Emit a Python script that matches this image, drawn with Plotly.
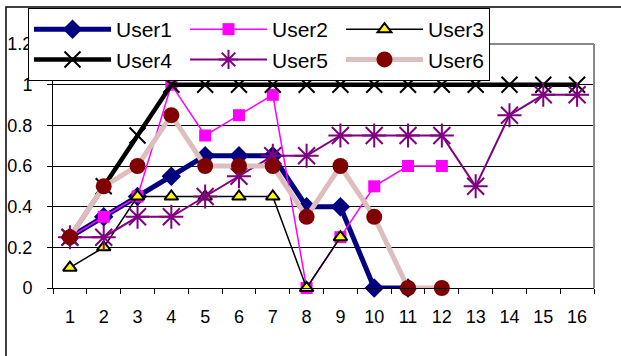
import plotly.graph_objects as go

categories = [str(i) for i in range(1, 17)]

user1 = [0.25, 0.35, 0.45, 0.55, 0.65, 0.65, 0.65, 0.4, 0.4, 0.0, 0.0, None, None, None, None, None]
user2 = [0.25, 0.35, 0.45, 1.0, 0.75, 0.85, 0.95, 0.0, 0.25, 0.5, 0.6, 0.6, None, None, None, None]
user3 = [0.1, 0.2, 0.45, 0.45, 0.45, 0.45, 0.45, 0.0, 0.25, None, None, None, None, None, None, None]
user4 = [0.25, 0.5, 0.75, 1.0, 1.0, 1.0, 1.0, 1.0, 1.0, 1.0, 1.0, 1.0, 1.0, 1.0, 1.0, 1.0]
user5 = [0.25, 0.25, 0.35, 0.35, 0.45, 0.55, 0.65, 0.65, 0.75, 0.75, 0.75, 0.75, 0.5, 0.85, 0.95, 0.95]
user6 = [0.25, 0.5, 0.6, 0.85, 0.6, 0.6, 0.6, 0.35, 0.6, 0.35, 0.0, 0.0, None, None, None, None]

series_names = ["User1", "User2", "User3", "User4", "User5", "User6"]

fig = go.Figure()

def add(name, y, line_color, line_width, symbol, msize, mcolor, mline_color, mline_width, lw=None):
    fig.add_trace(go.Scatter(
        x=categories, y=y, name=name, mode="lines+markers",
        line=dict(color=line_color, width=line_width),
        marker=dict(symbol=symbol, size=msize, color=mcolor,
                    line=dict(color=mline_color, width=mline_width)),
        cliponaxis=False, connectgaps=False, legendwidth=lw,
    ))

add(series_names[0], user1, "#000080", 5, "diamond", 15, "#000080", "#000080", 0)
add(series_names[1], user2, "#FF00FF", 1.5, "square", 12, "#FF00FF", "#FF00FF", 0)
add(series_names[2], user3, "#000000", 1.5, "triangle-up", 12, "#FFFF00", "#000000", 2, 56)
add(series_names[3], user4, "#000000", 4.5, "x-thin", 16, "#000000", "#000000", 2)
add(series_names[4], user5, "#800080", 2, "asterisk", 20, "#800080", "#800080", 2)
add(series_names[5], user6, "#DDBDBD", 5, "circle", 16, "#800000", "#800000", 0, 56)

L, R, T, B = 53, 27, 44, 68
W, H = 621, 356
pw, ph = W - L - R, H - T - B

def px_x(x):
    return (x - L) / pw

def px_y(y):
    return (H - B - y) / ph

fig.update_layout(
    width=W, height=H,
    margin=dict(l=L, r=R, t=T, b=B, pad=0, autoexpand=False),
    paper_bgcolor="white", plot_bgcolor="white",
    font=dict(family="Liberation Sans, Arial", size=18, color="black"),
    showlegend=True,
    legend=dict(
        orientation="h", x=px_x(28), y=px_y(8), xanchor="left", yanchor="top",
        bgcolor="white", bordercolor="black", borderwidth=1,
        font=dict(size=21, family="Liberation Sans, Arial", color="black"),
        itemwidth=77, entrywidth=64, entrywidthmode="pixels",
        traceorder="normal",
    ),
    xaxis=dict(
        type="category", categoryorder="array", categoryarray=categories,
        range=[-0.5, 15.5], tickson="boundaries", ticks="outside", ticklen=5,
        tickcolor="black", showline=True, linecolor="black", linewidth=1,
        showgrid=False, zeroline=False, ticklabelstandoff=12,
        tickfont=dict(size=18), automargin=False,
    ),
    yaxis=dict(
        range=[0, 1.2], dtick=0.2, tick0=0, ticks="outside", ticklen=5,
        tickcolor="black", showline=True, linecolor="black", linewidth=1,
        showgrid=True, gridcolor="black", gridwidth=1, zeroline=False,
        ticklabelstandoff=11, tickfont=dict(size=18), automargin=False,
    ),
    shapes=[
        dict(type="line", xref="paper", yref="paper", x0=1, x1=1, y0=0, y1=1,
             line=dict(color="#888888", width=2)),
        dict(type="line", xref="paper", yref="paper", x0=0, x1=1, y0=1, y1=1,
             line=dict(color="#888888", width=2)),
        dict(type="rect", xref="paper", yref="paper", x0=px_x(6), x1=px_x(640),
             y0=px_y(370), y1=px_y(7), line=dict(color="black", width=1.5),
             fillcolor="rgba(0,0,0,0)", layer="above"),
    ],
)

fig.write_html("out.html", config={"displayModeBar": False},
               post_script="document.body.style.margin='0px';")
